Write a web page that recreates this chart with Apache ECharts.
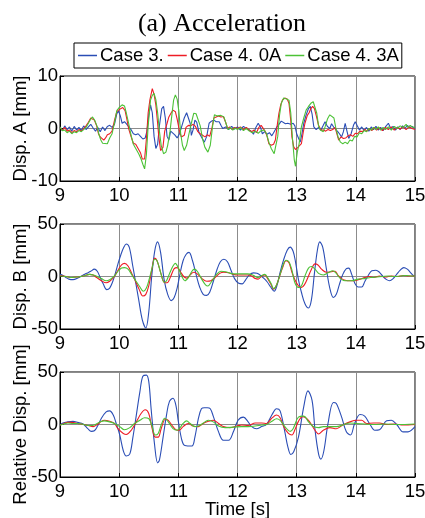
<!DOCTYPE html>
<html lang="en">
<head>
<meta charset="UTF-8">
<title>(a) Acceleration</title>
<script src="https://cdn.jsdelivr.net/npm/echarts@6/dist/echarts.min.js"></script>
<style>
  html, body { margin: 0; padding: 0; background: #fff; }
  #main { width: 425px; height: 518px; }
</style>
</head>
<body>
<div id="main"></div>
<script>
// legend names / panel labels
var caseNames = ['Case 3.', 'Case 4. 0A', 'Case 4. 3A'];
var panelNames = ['Disp. A [mm]', 'Disp. B [mm]', 'Relative Disp. [mm]'];
var xTicks = [9, 10, 11, 12, 13, 14, 15];

// ---- panel 1 : Disp. A ----
var tA3 = [9.00,9.04,9.08,9.12,9.16,9.20,9.24,9.28,9.32,9.36,9.40,9.44,9.48,9.52,9.56,9.60,9.64,9.68,9.72,9.76,9.80,9.84,9.88,9.92,9.96,9.99,10.02,10.05,10.09,10.13,10.16,10.20,10.24,10.28,10.32,10.36,10.40,10.44,10.47,10.50,10.53,10.56,10.59,10.62,10.65,10.68,10.72,10.75,10.78,10.81,10.84,10.87,10.90,10.94,10.98,11.02,11.06,11.10,11.14,11.17,11.20,11.22,11.25,11.28,11.31,11.35,11.39,11.44,11.48,11.52,11.56,11.60,11.64,11.69,11.72,11.75,11.80,11.85,11.90,11.95,12.00,12.05,12.10,12.15,12.20,12.24,12.27,12.31,12.35,12.39,12.42,12.46,12.50,12.54,12.58,12.62,12.66,12.70,12.74,12.77,12.81,12.85,12.90,12.94,12.97,13.00,13.03,13.06,13.09,13.12,13.16,13.20,13.23,13.26,13.29,13.33,13.37,13.41,13.45,13.48,13.52,13.56,13.59,13.63,13.67,13.71,13.76,13.79,13.82,13.85,13.88,13.92,13.96,13.99,14.02,14.06,14.10,14.14,14.18,14.22,14.26,14.30,14.34,14.38,14.42,14.46,14.50,14.55,14.59,14.63,14.67,14.71,14.75,14.79,14.83,14.87,14.91,14.95,15.00];
var vA3 = [0.3,-0.4,0.5,-0.2,0.3,-0.5,0.4,-0.3,0.2,-0.4,0.5,-0.2,0.3,0.8,0.1,-0.5,0.2,-0.6,0.3,-0.4,0.4,0.6,0.2,0.8,2.8,3.3,2.4,1.0,1.3,0.8,1.1,-0.2,-1.0,-1.2,-1.0,-1.5,-2.0,-1.8,-0.5,2.5,4.5,3.0,-1.5,-3.8,-3.0,0.5,3.8,4.2,2.0,-1.5,-2.2,-0.5,-0.3,-1.2,-1.8,-1.0,0.5,2.0,3.0,3.2,1.0,-1.3,-0.2,1.6,1.2,-0.8,-1.6,-2.6,-1.5,1.0,1.4,1.6,1.3,1.3,0.6,0.0,0.3,-0.2,0.4,-0.1,0.3,-0.3,0.4,0.0,-0.3,-0.6,-1.1,0.2,1.0,0.2,-1.0,-0.6,-1.1,-0.8,-1.4,-0.6,0.2,0.8,1.4,1.6,0.9,1.0,0.8,1.0,0.5,-1.0,-1.8,-2.6,-1.0,1.0,2.6,3.8,4.2,2.8,0.3,-0.2,0.2,-0.3,0.6,1.3,0.4,0.0,0.9,0.2,-0.3,-0.8,-1.6,-0.6,1.0,-0.5,-1.9,-1.0,0.6,1.3,0.6,-0.3,0.3,-0.4,0.2,-0.5,0.3,-0.2,0.4,-0.3,0.2,-0.4,0.3,1.0,0.0,0.4,-0.3,0.3,-0.2,0.5,0.0,0.6,0.2,0.4,0.0];

var tA40 = [9.00,9.04,9.08,9.12,9.16,9.20,9.24,9.28,9.32,9.36,9.40,9.44,9.48,9.52,9.55,9.58,9.62,9.65,9.68,9.71,9.74,9.77,9.80,9.84,9.88,9.92,9.96,10.00,10.03,10.06,10.10,10.13,10.16,10.20,10.24,10.28,10.32,10.36,10.39,10.43,10.46,10.49,10.52,10.56,10.59,10.62,10.65,10.67,10.70,10.74,10.77,10.81,10.84,10.88,10.91,10.95,10.98,11.02,11.05,11.10,11.13,11.17,11.21,11.25,11.29,11.33,11.37,11.41,11.45,11.49,11.53,11.57,11.60,11.64,11.68,11.72,11.76,11.80,11.83,11.87,11.91,11.95,12.00,12.05,12.10,12.15,12.20,12.24,12.28,12.32,12.36,12.40,12.43,12.47,12.50,12.53,12.57,12.61,12.64,12.67,12.70,12.73,12.76,12.80,12.84,12.87,12.90,12.92,12.95,12.98,13.02,13.05,13.08,13.11,13.14,13.18,13.21,13.24,13.27,13.30,13.33,13.37,13.41,13.45,13.49,13.53,13.57,13.61,13.65,13.68,13.71,13.75,13.79,13.83,13.87,13.91,13.95,13.99,14.03,14.07,14.11,14.15,14.19,14.23,14.27,14.31,14.35,14.40,14.45,14.50,14.55,14.60,14.65,14.70,14.75,14.80,14.85,14.90,14.95,15.00];
var vA40 = [0.2,-0.3,0.2,-0.5,-0.3,-0.8,-0.4,-0.6,-0.2,-0.5,0.0,0.5,1.2,2.0,2.2,1.6,0.5,-1.0,-1.6,-1.4,-2.2,-1.8,-1.2,-1.0,-0.5,1.5,3.2,3.6,3.8,4.0,3.4,1.8,0.0,-1.5,-2.8,-3.0,-3.8,-4.6,-5.8,-5.8,-2.0,3.0,5.5,7.6,6.5,4.5,1.0,-1.6,-4.2,-3.6,-0.5,1.0,2.2,3.0,3.5,3.2,1.8,-0.5,-1.6,-1.3,0.2,0.6,0.5,0.8,0.4,-0.6,-1.0,-1.3,-1.6,-1.2,-1.5,0.2,2.0,2.2,2.4,2.2,2.3,1.2,0.0,0.3,-0.2,0.2,0.0,0.3,-0.2,0.2,-0.3,-0.6,-0.3,-0.8,0.2,0.6,0.5,-0.6,-1.5,-2.9,-3.2,-3.0,-2.2,0.5,2.9,4.5,5.4,5.8,5.6,4.8,1.5,-1.6,-3.5,-4.0,-3.6,-3.8,-2.9,-0.8,1.0,2.5,3.0,3.8,4.2,3.8,2.5,0.6,-0.3,-0.3,-0.5,-0.2,-0.4,-0.2,0.2,-1.0,-2.2,-1.6,-1.9,-1.8,-1.4,-1.2,-1.5,-0.9,-1.0,-0.5,-0.6,-0.2,-0.5,0.0,-0.4,0.2,-0.3,0.1,-0.4,0.2,-0.2,0.3,-0.3,0.2,-0.1,0.3,-0.2,0.3,0.0,-0.2];

var tA43 = [9.00,9.04,9.08,9.12,9.16,9.20,9.24,9.28,9.32,9.36,9.40,9.44,9.48,9.52,9.55,9.59,9.63,9.66,9.69,9.72,9.75,9.80,9.84,9.88,9.92,9.96,10.00,10.05,10.09,10.12,10.16,10.20,10.24,10.28,10.33,10.37,10.40,10.43,10.46,10.49,10.53,10.56,10.59,10.62,10.65,10.68,10.71,10.75,10.79,10.82,10.86,10.89,10.92,10.95,10.98,11.01,11.04,11.07,11.10,11.14,11.18,11.22,11.26,11.30,11.33,11.37,11.41,11.45,11.50,11.54,11.58,11.61,11.66,11.72,11.77,11.81,11.84,11.88,11.92,11.96,12.00,12.05,12.10,12.15,12.20,12.25,12.30,12.35,12.40,12.45,12.49,12.53,12.57,12.62,12.65,12.68,12.71,12.74,12.78,12.83,12.87,12.90,12.93,12.96,12.98,13.01,13.04,13.08,13.12,13.16,13.20,13.24,13.28,13.31,13.34,13.37,13.40,13.45,13.48,13.52,13.56,13.59,13.63,13.66,13.70,13.74,13.78,13.82,13.86,13.90,13.94,13.98,14.02,14.06,14.10,14.14,14.18,14.22,14.26,14.30,14.34,14.38,14.42,14.46,14.50,14.55,14.60,14.65,14.70,14.75,14.80,14.85,14.88,14.92,14.96,15.00];
var vA43 = [0.3,-0.4,-0.3,-0.8,-0.5,-1.0,-0.6,-0.8,-0.4,-0.6,-0.2,0.2,1.0,1.8,2.2,1.5,0.3,-1.2,-2.2,-2.8,-3.0,-2.9,-1.8,-1.0,1.0,3.4,4.0,4.5,4.3,3.0,1.0,-1.2,-3.0,-3.8,-4.8,-5.8,-6.8,-7.7,-5.0,0.5,5.4,6.3,6.7,5.5,3.0,-0.5,-3.2,-4.8,-4.5,-3.2,-0.5,2.5,5.4,6.4,5.6,3.2,-1.0,-3.2,-4.2,-3.2,-1.0,1.0,2.9,2.8,2.6,0.5,-2.0,-3.6,-4.5,-3.2,0.5,2.6,2.4,2.5,2.2,0.8,-0.2,0.2,-0.3,0.1,-0.2,0.2,-0.4,0.0,-0.5,-0.8,-0.5,-0.9,-0.4,-0.3,-1.0,-2.6,-3.8,-4.8,-4.5,-1.5,2.5,4.8,5.8,5.6,5.4,3.0,-2.0,-6.0,-7.2,-4.5,-3.0,0.3,2.0,3.5,4.2,4.8,5.1,4.0,2.9,0.5,-0.3,-0.6,0.3,1.8,2.6,2.9,2.0,0.2,-1.6,-2.6,-2.9,-2.6,-2.9,-2.2,-2.4,-1.5,-1.6,-0.8,-1.0,-0.4,-0.6,0.0,-0.3,0.2,-0.2,0.3,-0.3,0.2,-0.2,0.3,-0.3,0.4,0.0,0.5,0.2,0.8,0.2,0.6,0.2,0.3];

// ---- panel 2 : Disp. B ----
var tB3 = [9.00,9.05,9.10,9.15,9.22,9.30,9.38,9.45,9.52,9.58,9.63,9.68,9.73,9.79,9.84,9.89,9.94,9.98,10.03,10.08,10.12,10.17,10.23,10.28,10.33,10.39,10.45,10.50,10.55,10.60,10.65,10.70,10.76,10.82,10.88,10.93,10.98,11.03,11.08,11.13,11.18,11.24,11.30,11.36,11.42,11.48,11.53,11.59,11.65,11.71,11.77,11.83,11.89,11.95,12.02,12.08,12.14,12.20,12.27,12.33,12.39,12.45,12.50,12.56,12.62,12.67,12.72,12.78,12.84,12.89,12.94,12.98,13.03,13.08,13.14,13.20,13.25,13.30,13.35,13.39,13.44,13.50,13.56,13.62,13.67,13.72,13.78,13.84,13.88,13.93,13.98,14.04,14.10,14.15,14.21,14.27,14.34,14.40,14.46,14.52,14.57,14.63,14.69,14.75,14.81,14.87,14.92,14.97,15.00];
var vB3 = [2,1,-1,-2.5,-3,-1.5,1,3,5,7,5,-1,-7,-12.5,-11,-5,4,12,21,28,31,28,10,-6,-22,-41,-49,-34,0,24,33,23,-3,-17,-23,-20,-11,3,15,21,23,15,2,-10,-17,-18,-15,-5,6,14,16.5,14,6,-2,-6.5,-7,-3,1.5,3.5,3,1,-2,-5,-10,-14,-8,4,16,25,28,24,14,-3,-15,-26,-30,-22,3,25,33,28,8,-11,-20,-17,-8,2,7.5,8,2,-6,-10,-10,-5,1,5.5,6,4,0,-3,-4,-2,2,6,8.5,7,4,1,0.5];

var tB40 = [9.00,9.10,9.20,9.30,9.40,9.50,9.56,9.62,9.70,9.78,9.84,9.92,9.98,10.04,10.09,10.15,10.22,10.28,10.34,10.40,10.45,10.50,10.55,10.60,10.64,10.70,10.76,10.81,10.87,10.93,10.98,11.03,11.09,11.14,11.20,11.26,11.32,11.40,11.48,11.55,11.62,11.70,11.77,11.85,11.93,12.01,12.10,12.18,12.24,12.30,12.35,12.41,12.46,12.51,12.56,12.61,12.66,12.71,12.76,12.82,12.87,12.92,12.97,13.03,13.08,13.13,13.19,13.25,13.31,13.36,13.42,13.50,13.58,13.65,13.70,13.76,13.82,13.90,13.98,14.07,14.15,14.22,14.30,14.40,14.50,14.60,14.70,14.80,14.90,15.00];
var vB40 = [1,0,-1,-0.5,0.5,2,1.5,-1,-4,-6,-4.5,0,6,11,12.5,10,2,-5,-12.5,-18.5,-17,-9,6,17.5,15,4,-5.5,-6,0,7.5,8.5,5,0,-1.5,1.5,4,2.5,-2,-4.5,-4,-1,3,4,3.5,2,1.5,1.5,1.5,0.5,-2,-2.5,0.5,1.5,-2,-7,-12,-8,0,8,15,13,4,-3,-9,-10.5,-8,-1,7,12,11,7,4,4.5,5,1,-2,-3.5,-4,-4,-2.5,-1,0,-1,0.5,-0.5,0.5,0,1,0.5,0.5];

var tB43 = [9.00,9.10,9.20,9.30,9.40,9.50,9.56,9.63,9.70,9.78,9.84,9.92,9.98,10.04,10.09,10.15,10.22,10.28,10.34,10.41,10.46,10.51,10.56,10.60,10.64,10.70,10.76,10.80,10.86,10.91,10.95,11.00,11.06,11.11,11.17,11.23,11.27,11.32,11.39,11.46,11.50,11.56,11.64,11.72,11.80,11.88,11.96,12.07,12.17,12.24,12.30,12.35,12.41,12.46,12.52,12.57,12.61,12.66,12.72,12.77,12.82,12.87,12.92,12.97,13.03,13.08,13.14,13.20,13.25,13.31,13.37,13.45,13.53,13.61,13.67,13.73,13.82,13.93,14.04,14.15,14.25,14.35,14.45,14.55,14.65,14.75,14.85,14.95,15.00];
var vB43 = [0.5,0,-1,-0.5,0.5,2,1.5,0,-2,-4,-3,0.5,5,8,8.5,7,1,-4,-9,-14,-11,-2,9,16.5,15,4,-5.5,-4,4,10,12.5,8,0,-4,-1,5,7,5,-2,-8,-9,-5,1.5,5,4.5,3,2.5,2.5,2.5,2,0,-1,1,2,-2,-7,-11.5,-8,2,11,15.5,14,6,-6,-10.5,-9,0.5,8,9.5,7,3,1.5,3.5,5.5,3,-1.5,-4,-4,-2.5,-2,-1,-0.5,0,0.5,0,0.5,1,0.5,0.5];

// ---- panel 3 : Relative Disp. ----
var tR3 = [9.00,9.05,9.13,9.22,9.30,9.39,9.47,9.53,9.58,9.63,9.70,9.78,9.84,9.90,9.95,10.01,10.07,10.12,10.18,10.23,10.29,10.35,10.40,10.46,10.50,10.54,10.60,10.65,10.68,10.74,10.80,10.85,10.91,10.96,11.00,11.06,11.11,11.23,11.28,11.34,11.39,11.44,11.49,11.54,11.59,11.68,11.76,11.85,11.93,12.01,12.10,12.18,12.24,12.32,12.41,12.49,12.58,12.66,12.72,12.80,12.85,12.90,12.95,13.03,13.12,13.19,13.26,13.31,13.37,13.41,13.46,13.53,13.62,13.67,13.76,13.84,13.91,13.98,14.07,14.15,14.24,14.32,14.40,14.52,14.60,14.69,14.80,14.88,15.00];
var vR3 = [-0.5,1.5,2.5,3,2,0.5,-4,-6.5,-6,-2,6,12,13,9,1,-10,-25,-30,-28,-13,9,31,46,47,41,15,-20,-36.5,-34,-13,9,22,25,18,3,-15,-20,-20.5,-12,6,15,16,16,15,8,-7,-15,-15,-7,4,7,2.5,-2,-4,-2,0,9,15,13,-7,-21,-28.5,-26,-12,17,32,23,-5,-28,-33,-25,1,21,20,7,-7,-10,1,9.5,8,0,-5.5,-5,3.5,4,0,-7,-7,-2];

var tR40 = [9.00,9.07,9.13,9.20,9.30,9.40,9.48,9.56,9.63,9.70,9.75,9.84,9.92,9.98,10.07,10.12,10.21,10.29,10.37,10.44,10.50,10.55,10.61,10.66,10.71,10.78,10.83,10.91,10.98,11.03,11.08,11.17,11.25,11.34,11.42,11.51,11.59,11.68,11.76,11.87,11.99,12.07,12.18,12.30,12.41,12.49,12.58,12.66,12.72,12.78,12.86,12.92,12.97,13.03,13.10,13.20,13.31,13.37,13.45,13.56,13.67,13.78,13.90,14.01,14.10,14.18,14.30,14.40,14.52,14.65,14.80,15.00];
var vR40 = [-0.5,1,2,2,1,0,-1,-2,0,3,4,3,1,-4,-8.5,-9.5,-5,2.5,10.5,14,10.5,-2,-12,-12,-4,5,4,-2,-5.5,-5,-2,1,-1.5,-2,1,3,4,1,-2,-3,-1.5,-0.5,-1,1.5,1.5,1,6,9,6.5,-2,-8.5,-10,-5,3,7.5,4,-5.5,-9,-5.5,-3,-4,-0.5,2.5,4,4,1,1.5,1.5,0,0.5,-0.5,0];

var tR43 = [9.00,9.07,9.13,9.22,9.30,9.40,9.50,9.58,9.66,9.75,9.84,9.92,10.01,10.09,10.18,10.26,10.35,10.43,10.50,10.55,10.61,10.66,10.71,10.77,10.83,10.91,10.98,11.03,11.08,11.14,11.20,11.28,11.36,11.45,11.51,11.59,11.68,11.79,11.93,12.07,12.18,12.30,12.41,12.49,12.58,12.66,12.72,12.80,12.89,12.94,13.03,13.12,13.20,13.28,13.37,13.45,13.56,13.67,13.78,13.90,14.01,14.15,14.30,14.50,14.70,15.00];
var vR43 = [-0.5,0.5,1.5,1,1,0,-1,-0.5,2,3.5,2.5,1,-2,-5,-3,1,4,6.5,5.5,-0.5,-10,-8.5,-0.5,6,2.5,-4,-5.5,-3,1,3.5,1,-2,-1,2.5,4,2.5,-1.5,-3,-2.5,-2,-2,-1.5,-0.5,0,3,5.5,4,-2,-6.5,-4,7,8,2.5,-2,-3,-2,-2,-2,-0.5,1.5,1,0.5,0,0.5,0,0.5];

var colors = ['#2a4db5', '#ee1c25', '#4cc236'];
var font = 'Liberation Sans, Arial, sans-serif';
var fs = 18.5;

function pairs(t, v) {
    var out = [];
    for (var i = 0; i < t.length; i++) out.push([t[i], v[i]]);
    return out;
}

var panels = [
    { top: 76, lim: 10, data: [[tA3, vA3], [tA40, vA40], [tA43, vA43]], smooth: false },
    { top: 224, lim: 50, data: [[tB3, vB3], [tB40, vB40], [tB43, vB43]], smooth: true },
    { top: 372, lim: 50, data: [[tR3, vR3], [tR40, vR40], [tR43, vR43]], smooth: true }
];

var grids = [], xAxes = [], yAxes = [], series = [];
panels.forEach(function(p, k) {
    grids.push({
        left: 60, right: 10, top: p.top, height: 105,
        containLabel: false, outerBoundsMode: 'none',
        show: true, borderColor: '#000', borderWidth: 1, backgroundColor: '#fff'
    });
    xAxes.push({
        type: 'value', gridIndex: k, min: 9, max: 15, interval: 1,
        name: k === 2 ? 'Time [s]' : '', nameLocation: 'middle', nameGap: 23, nameMoveOverlap: false,
        nameTextStyle: { fontFamily: font, fontSize: fs, color: '#000' },
        axisLine: { show: true, onZero: false, lineStyle: { color: '#000' } },
        axisTick: { show: true, inside: true, length: 4, lineStyle: { color: '#000' } },
        axisLabel: { fontFamily: font, fontSize: fs, color: '#000', margin: 5 },
        splitLine: { show: true, lineStyle: { color: '#8c8c8c', width: 1 } }
    });
    yAxes.push({
        type: 'value', gridIndex: k, min: -p.lim, max: p.lim, interval: p.lim,
        name: panelNames[k], nameLocation: 'middle', nameGap: 30, nameMoveOverlap: false,
        nameTextStyle: { fontFamily: font, fontSize: fs, color: '#000' },
        axisLine: { show: true, lineStyle: { color: '#000' } },
        axisTick: { show: true, inside: true, length: 4, lineStyle: { color: '#000' } },
        axisLabel: { fontFamily: font, fontSize: fs, color: '#000', margin: 2, padding: [4, 0, 0, 0] },
        splitLine: { show: true, lineStyle: { color: '#8c8c8c', width: 1 } }
    });
    p.data.forEach(function(d, j) {
        series.push({
            name: caseNames[j], type: 'line', xAxisIndex: k, yAxisIndex: k,
            data: pairs(d[0], d[1]), showSymbol: false, smooth: p.smooth ? 0.35 : false,
            lineStyle: { color: colors[j], width: 1.1 }, itemStyle: { color: colors[j] },
            z: 3 + j, animation: false
        });
    });
});

var myChart = echarts.init(document.getElementById('main'));
myChart.setOption({
    animation: false,
    title: {
        text: '(a) Acceleration', left: 217, top: 6, textAlign: 'center',
        textStyle: { fontFamily: 'Liberation Serif, Times New Roman, serif', fontSize: 26, fontWeight: 'normal', color: '#000' }
    },
    legend: {
        data: caseNames, left: 74, top: 43, width: 340,
        icon: 'rect', itemWidth: 19, itemHeight: 1.5, itemGap: 4,
        padding: [3, 3, 3, 4],
        borderColor: '#000', borderWidth: 1,
        textStyle: { fontFamily: font, fontSize: fs, color: '#000', padding: [0, 0, 0, -2] }
    },
    grid: grids,
    xAxis: xAxes,
    yAxis: yAxes,
    series: series
});
</script>
</body>
</html>
